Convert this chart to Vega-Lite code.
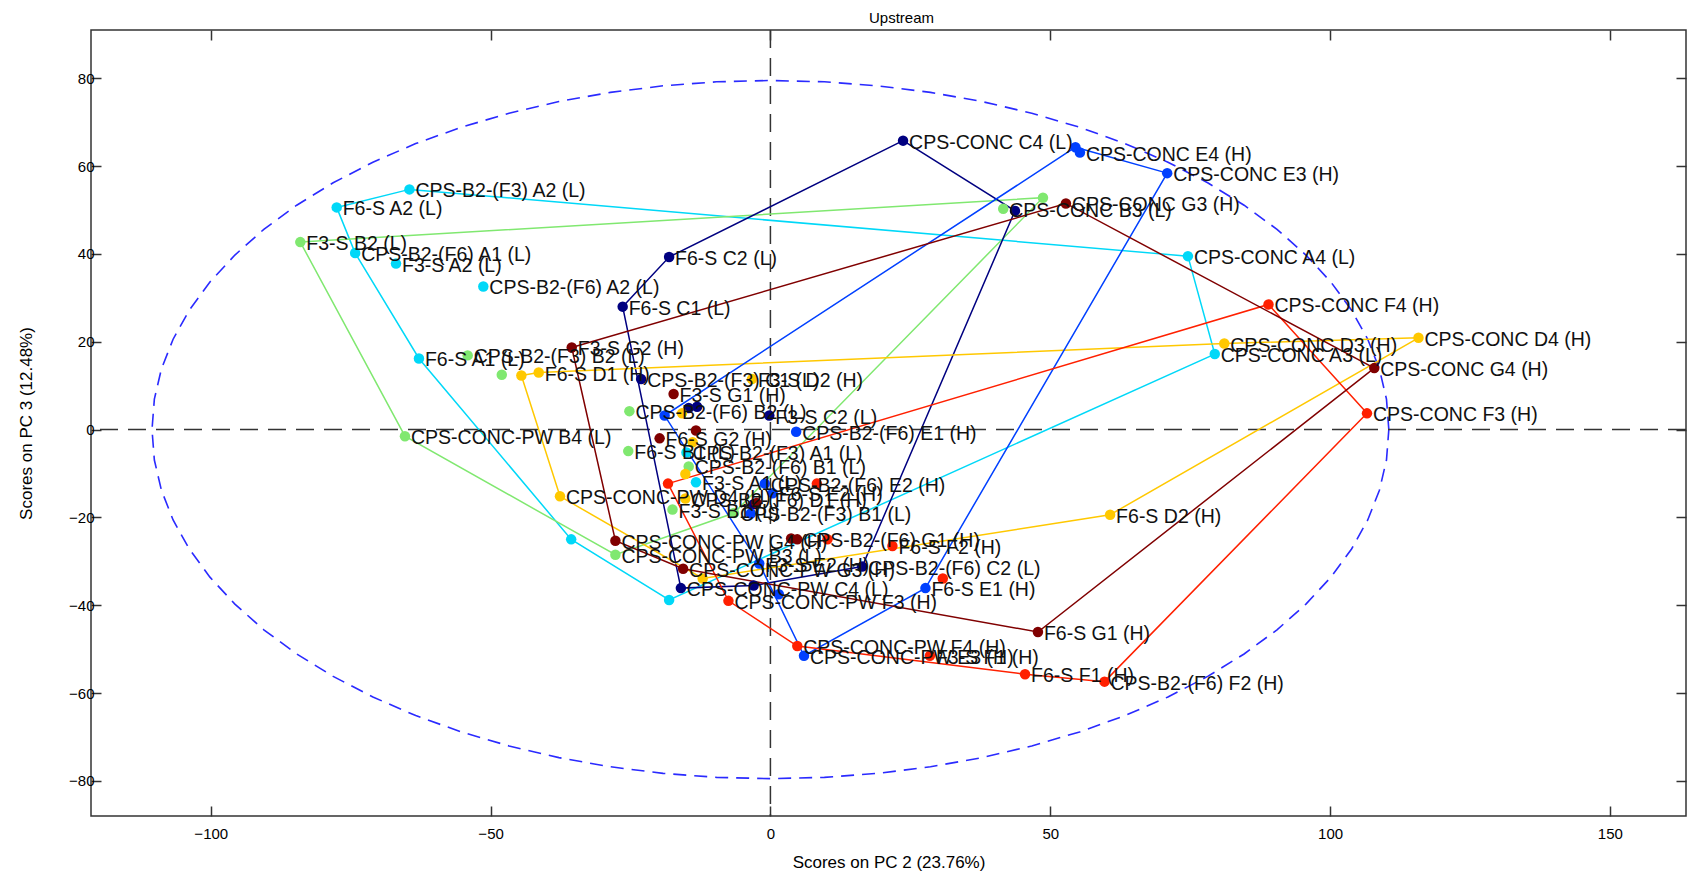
{
  "$schema": "https://vega.github.io/schema/vega-lite/v6.json",
  "width": 1595,
  "height": 786,
  "autosize": {"type": "none"},
  "padding": {"left": 91, "top": 30, "right": 4, "bottom": 66},
  "background": "white",
  "title": {"text": "Upstream", "fontSize": 15, "fontWeight": "normal", "font": "Liberation Sans", "offset": 3, "color": "#000", "dx": 13},
  "config": {
    "view": {"stroke": "#333", "strokeWidth": 1.5},
    "axis": {"labelFont": "Liberation Sans", "titleFont": "Liberation Sans", "labelFontSize": 15, "titleFontSize": 17, "titleFontWeight": "normal", "labelColor": "#000", "titleColor": "#000", "tickColor": "#333", "tickWidth": 1.5, "domain": false, "grid": false}
  },
  "datasets": {
    "scores": [
      {"g":"A","x":-64.5,"y":54.7,"label":"CPS-B2-(F3) A2 (L)"},
      {"g":"A","x":-77.5,"y":50.6,"label":"F6-S A2 (L)"},
      {"g":"A","x":-74.2,"y":40.2,"label":"CPS-B2-(F6) A1 (L)"},
      {"g":"A","x":-66.9,"y":37.8,"label":"F3-S A2 (L)"},
      {"g":"A","x":-51.3,"y":32.6,"label":"CPS-B2-(F6) A2 (L)"},
      {"g":"A","x":-62.8,"y":16.2,"label":"F6-S A1 (L)"},
      {"g":"A","x":74.6,"y":39.5,"label":"CPS-CONC A4 (L)"},
      {"g":"A","x":79.4,"y":17.2,"label":"CPS-CONC A3 (L)"},
      {"g":"A","x":-13.3,"y":-12.0,"label":"F3-S A1 (L)"},
      {"g":"A","x":-15.0,"y":-5.2,"label":"CPS-B2-(F3) A1 (L)"},
      {"g":"A","x":-35.6,"y":-25.0,"label":""},
      {"g":"A","x":-18.1,"y":-38.8,"label":""},
      {"g":"B","x":-84.0,"y":42.7,"label":"F3-S B2 (L)"},
      {"g":"B","x":-65.3,"y":-1.5,"label":"CPS-CONC-PW B4 (L)"},
      {"g":"B","x":-54.1,"y":16.9,"label":"CPS-B2-(F3) B2 (L)"},
      {"g":"B","x":-48.0,"y":12.5,"label":""},
      {"g":"B","x":-27.7,"y":-28.5,"label":"CPS-CONC-PW B3 (L)"},
      {"g":"B","x":-25.4,"y":-4.9,"label":"F6-S B1 (L)"},
      {"g":"B","x":-25.2,"y":4.2,"label":"CPS-B2-(F6) B2 (L)"},
      {"g":"B","x":-14.6,"y":-8.4,"label":"CPS-B2-(F6) B1 (L)"},
      {"g":"B","x":-17.5,"y":-18.2,"label":"F3-S B1 (L)"},
      {"g":"B","x":-6.5,"y":-19.0,"label":"CPS-B2-(F3) B1 (L)"},
      {"g":"B","x":41.6,"y":50.3,"label":"CPS-CONC B3 (L)"},
      {"g":"B","x":48.7,"y":52.8,"label":""},
      {"g":"C","x":23.7,"y":65.8,"label":"CPS-CONC C4 (L)"},
      {"g":"C","x":-18.1,"y":39.3,"label":"F6-S C2 (L)"},
      {"g":"C","x":-26.4,"y":28.0,"label":"F6-S C1 (L)"},
      {"g":"C","x":-23.1,"y":11.5,"label":"CPS-B2-(F3) C1 (L)"},
      {"g":"C","x":-14.6,"y":4.9,"label":""},
      {"g":"C","x":-13.1,"y":5.2,"label":""},
      {"g":"C","x":-0.2,"y":3.2,"label":"F3-S C2 (L)"},
      {"g":"C","x":43.7,"y":49.8,"label":""},
      {"g":"C","x":-16.0,"y":-36.1,"label":"CPS-CONC-PW C4 (L)"},
      {"g":"C","x":16.4,"y":-31.2,"label":"CPS-B2-(F6) C2 (L)"},
      {"g":"C","x":-3.0,"y":-35.5,"label":""},
      {"g":"C","x":-3.0,"y":-17.0,"label":""},
      {"g":"D","x":115.8,"y":20.9,"label":"CPS-CONC D4 (H)"},
      {"g":"D","x":81.1,"y":19.6,"label":"CPS-CONC D3 (H)"},
      {"g":"D","x":-41.4,"y":13.0,"label":"F6-S D1 (H)"},
      {"g":"D","x":-44.5,"y":12.3,"label":""},
      {"g":"D","x":60.7,"y":-19.4,"label":"F6-S D2 (H)"},
      {"g":"D","x":-37.6,"y":-15.2,"label":"CPS-CONC-PW D4 (H)"},
      {"g":"D","x":-3.3,"y":11.5,"label":"F3-S D2 (H)"},
      {"g":"D","x":-15.2,"y":-10.1,"label":""},
      {"g":"D","x":-15.2,"y":-15.7,"label":"CPS-B2-(F6) D1 (H)"},
      {"g":"D","x":-15.8,"y":3.7,"label":""},
      {"g":"D","x":-12.1,"y":-33.9,"label":""},
      {"g":"D","x":-13.9,"y":-2.9,"label":""},
      {"g":"E","x":54.5,"y":64.3,"label":""},
      {"g":"E","x":55.3,"y":63.1,"label":"CPS-CONC E4 (H)"},
      {"g":"E","x":70.9,"y":58.4,"label":"CPS-CONC E3 (H)"},
      {"g":"E","x":4.6,"y":-0.5,"label":"CPS-B2-(F6) E1 (H)"},
      {"g":"E","x":-1.0,"y":-12.3,"label":"CPS-B2-(F6) E2 (H)"},
      {"g":"E","x":27.7,"y":-36.1,"label":"F6-S E1 (H)"},
      {"g":"E","x":0.4,"y":-14.5,"label":"F6-S E2 (H)"},
      {"g":"E","x":6.0,"y":-51.5,"label":"CPS-CONC-PW E3 (H)"},
      {"g":"E","x":1.5,"y":-37.5,"label":""},
      {"g":"E","x":-18.9,"y":3.2,"label":""},
      {"g":"E","x":-2.0,"y":-30.5,"label":"F3-S E2 (H)"},
      {"g":"E","x":-3.5,"y":-19.1,"label":""},
      {"g":"F","x":89.0,"y":28.5,"label":"CPS-CONC F4 (H)"},
      {"g":"F","x":106.6,"y":3.7,"label":"CPS-CONC F3 (H)"},
      {"g":"F","x":21.8,"y":-26.5,"label":"F6-S F2 (H)"},
      {"g":"F","x":45.5,"y":-55.7,"label":"F6-S F1 (H)"},
      {"g":"F","x":59.7,"y":-57.4,"label":"CPS-B2-(F6) F2 (H)"},
      {"g":"F","x":4.8,"y":-49.3,"label":"CPS-CONC-PW F4 (H)"},
      {"g":"F","x":-7.5,"y":-39.0,"label":"CPS-CONC-PW F3 (H)"},
      {"g":"F","x":-18.3,"y":-12.3,"label":""},
      {"g":"F","x":8.3,"y":-12.3,"label":""},
      {"g":"F","x":10.2,"y":-25.0,"label":""},
      {"g":"F","x":30.8,"y":-33.9,"label":""},
      {"g":"F","x":28.5,"y":-51.5,"label":"F3-S F1 (H)"},
      {"g":"G","x":52.8,"y":51.5,"label":"CPS-CONC G3 (H)"},
      {"g":"G","x":107.9,"y":14.0,"label":"CPS-CONC G4 (H)"},
      {"g":"G","x":47.8,"y":-46.1,"label":"F6-S G1 (H)"},
      {"g":"G","x":-35.5,"y":18.7,"label":"F3-S G2 (H)"},
      {"g":"G","x":-17.3,"y":8.1,"label":"F3-S G1 (H)"},
      {"g":"G","x":-19.8,"y":-2.0,"label":"F6-S G2 (H)"},
      {"g":"G","x":-13.3,"y":-0.2,"label":""},
      {"g":"G","x":-27.7,"y":-25.3,"label":"CPS-CONC-PW G4 (H)"},
      {"g":"G","x":-15.6,"y":-31.7,"label":"CPS-CONC-PW G3 (H)"},
      {"g":"G","x":4.8,"y":-25.0,"label":"CPS-B2-(F6) G1 (H)"},
      {"g":"G","x":3.7,"y":-24.8,"label":""},
      {"g":"G","x":-2.5,"y":-16.7,"label":""}
    ],
    "hulls": [
      {"g":"A","o":0,"x":-77.5,"y":50.6},{"g":"A","o":1,"x":-64.5,"y":54.7},{"g":"A","o":2,"x":74.6,"y":39.5},{"g":"A","o":3,"x":79.4,"y":17.2},{"g":"A","o":4,"x":-18.1,"y":-38.8},{"g":"A","o":5,"x":-35.6,"y":-25.0},{"g":"A","o":6,"x":-62.8,"y":16.2},{"g":"A","o":7,"x":-74.2,"y":40.2},{"g":"A","o":8,"x":-77.5,"y":50.6},
      {"g":"B","o":0,"x":-84.0,"y":42.7},{"g":"B","o":1,"x":48.7,"y":52.8},{"g":"B","o":2,"x":-6.5,"y":-19.0},{"g":"B","o":3,"x":-27.7,"y":-28.5},{"g":"B","o":4,"x":-65.3,"y":-1.5},{"g":"B","o":5,"x":-84.0,"y":42.7},
      {"g":"C","o":0,"x":23.7,"y":65.8},{"g":"C","o":1,"x":43.7,"y":49.8},{"g":"C","o":2,"x":16.4,"y":-31.2},{"g":"C","o":3,"x":-3.0,"y":-35.5},{"g":"C","o":4,"x":-16.0,"y":-36.1},{"g":"C","o":5,"x":-26.4,"y":28.0},{"g":"C","o":6,"x":-18.1,"y":39.3},{"g":"C","o":7,"x":23.7,"y":65.8},
      {"g":"D","o":0,"x":-44.5,"y":12.3},{"g":"D","o":1,"x":-41.4,"y":13.0},{"g":"D","o":2,"x":81.1,"y":19.6},{"g":"D","o":3,"x":115.8,"y":20.9},{"g":"D","o":4,"x":60.7,"y":-19.4},{"g":"D","o":5,"x":-12.1,"y":-33.9},{"g":"D","o":6,"x":-37.6,"y":-15.2},{"g":"D","o":7,"x":-44.5,"y":12.3},
      {"g":"E","o":0,"x":54.5,"y":64.3},{"g":"E","o":1,"x":70.9,"y":58.4},{"g":"E","o":2,"x":27.7,"y":-36.1},{"g":"E","o":3,"x":6.0,"y":-51.5},{"g":"E","o":4,"x":-2.0,"y":-30.5},{"g":"E","o":5,"x":-18.9,"y":3.2},{"g":"E","o":6,"x":54.5,"y":64.3},
      {"g":"F","o":0,"x":-18.3,"y":-12.3},{"g":"F","o":1,"x":89.0,"y":28.5},{"g":"F","o":2,"x":106.6,"y":3.7},{"g":"F","o":3,"x":59.7,"y":-57.4},{"g":"F","o":4,"x":45.5,"y":-55.7},{"g":"F","o":5,"x":4.8,"y":-49.3},{"g":"F","o":6,"x":-7.5,"y":-39.0},{"g":"F","o":7,"x":-18.3,"y":-12.3},
      {"g":"G","o":0,"x":-35.5,"y":18.7},{"g":"G","o":1,"x":52.8,"y":51.5},{"g":"G","o":2,"x":107.9,"y":14.0},{"g":"G","o":3,"x":47.8,"y":-46.1},{"g":"G","o":4,"x":-15.6,"y":-31.7},{"g":"G","o":5,"x":-27.7,"y":-25.3},{"g":"G","o":6,"x":-35.5,"y":18.7}
    ],
    "ellipse": [
      {"i":0,"x":110.5,"y":0},{"i":1,"x":110.08,"y":6.93},{"i":2,"x":108.82,"y":13.8},{"i":3,"x":106.73,"y":20.58},{"i":4,"x":103.84,"y":27.19},{"i":5,"x":100.15,"y":33.6},{"i":6,"x":95.69,"y":39.75},{"i":7,"x":90.52,"y":45.6},{"i":8,"x":84.64,"y":51.1},{"i":9,"x":78.13,"y":56.21},{"i":10,"x":71.03,"y":60.9},{"i":11,"x":63.38,"y":65.13},{"i":12,"x":55.25,"y":68.85},{"i":13,"x":46.7,"y":72.05},{"i":14,"x":37.79,"y":74.71},{"i":15,"x":28.6,"y":76.79},{"i":16,"x":19.18,"y":78.29},{"i":17,"x":9.64,"y":79.2},{"i":18,"x":0,"y":79.5},
      {"i":19,"x":-9.64,"y":79.2},{"i":20,"x":-19.18,"y":78.29},{"i":21,"x":-28.6,"y":76.79},{"i":22,"x":-37.79,"y":74.71},{"i":23,"x":-46.7,"y":72.05},{"i":24,"x":-55.25,"y":68.85},{"i":25,"x":-63.38,"y":65.13},{"i":26,"x":-71.03,"y":60.9},{"i":27,"x":-78.13,"y":56.21},{"i":28,"x":-84.64,"y":51.1},{"i":29,"x":-90.52,"y":45.6},{"i":30,"x":-95.69,"y":39.75},{"i":31,"x":-100.15,"y":33.6},{"i":32,"x":-103.84,"y":27.19},{"i":33,"x":-106.73,"y":20.58},{"i":34,"x":-108.82,"y":13.8},{"i":35,"x":-110.08,"y":6.93},{"i":36,"x":-110.5,"y":0},
      {"i":37,"x":-110.08,"y":-6.93},{"i":38,"x":-108.82,"y":-13.8},{"i":39,"x":-106.73,"y":-20.58},{"i":40,"x":-103.84,"y":-27.19},{"i":41,"x":-100.15,"y":-33.6},{"i":42,"x":-95.69,"y":-39.75},{"i":43,"x":-90.52,"y":-45.6},{"i":44,"x":-84.64,"y":-51.1},{"i":45,"x":-78.13,"y":-56.21},{"i":46,"x":-71.03,"y":-60.9},{"i":47,"x":-63.38,"y":-65.13},{"i":48,"x":-55.25,"y":-68.85},{"i":49,"x":-46.7,"y":-72.05},{"i":50,"x":-37.79,"y":-74.71},{"i":51,"x":-28.6,"y":-76.79},{"i":52,"x":-19.18,"y":-78.29},{"i":53,"x":-9.64,"y":-79.2},{"i":54,"x":0,"y":-79.5},
      {"i":55,"x":9.64,"y":-79.2},{"i":56,"x":19.18,"y":-78.29},{"i":57,"x":28.6,"y":-76.79},{"i":58,"x":37.79,"y":-74.71},{"i":59,"x":46.7,"y":-72.05},{"i":60,"x":55.25,"y":-68.85},{"i":61,"x":63.38,"y":-65.13},{"i":62,"x":71.03,"y":-60.9},{"i":63,"x":78.13,"y":-56.21},{"i":64,"x":84.64,"y":-51.1},{"i":65,"x":90.52,"y":-45.6},{"i":66,"x":95.69,"y":-39.75},{"i":67,"x":100.15,"y":-33.6},{"i":68,"x":103.84,"y":-27.19},{"i":69,"x":106.73,"y":-20.58},{"i":70,"x":108.82,"y":-13.8},{"i":71,"x":110.08,"y":-6.93},{"i":72,"x":110.5,"y":0}
    ]
  },
  "resolve": {"axis": {"x": "independent", "y": "independent"}},
  "layer": [
    {
      "data": {"name": "ellipse"},
      "mark": {"type": "line", "stroke": "#2a2aff", "strokeWidth": 1.6, "strokeDash": [13, 8]},
      "encoding": {
        "x": {"field": "x", "type": "quantitative", "scale": {"domain": [-121.4, 163.6], "nice": false, "zero": false}, "axis": null},
        "y": {"field": "y", "type": "quantitative", "scale": {"domain": [-88, 91], "nice": false, "zero": false}, "axis": null},
        "order": {"field": "i"}
      }
    },
    {
      "data": {"values": [{"v": 0}]},
      "mark": {"type": "rule", "stroke": "#333", "strokeWidth": 1.5, "strokeDash": [18, 10]},
      "encoding": {
        "x": {"field": "v", "type": "quantitative", "scale": {"domain": [-121.4, 163.6], "nice": false, "zero": false}, "axis": {"orient": "top", "labels": false, "title": null, "values": [-100, -50, 0, 50, 100, 150], "tickSize": -10}}
      }
    },
    {
      "data": {"values": [{"v": 0}]},
      "mark": {"type": "rule", "stroke": "#333", "strokeWidth": 1.5, "strokeDash": [18, 10]},
      "encoding": {
        "y": {"field": "v", "type": "quantitative", "scale": {"domain": [-88, 91], "nice": false, "zero": false}, "axis": {"orient": "right", "labels": false, "title": null, "values": [-80, -60, -40, -20, 0, 20, 40, 60, 80], "tickSize": -10}}
      }
    },
    {
      "data": {"name": "hulls"},
      "mark": {"type": "line", "strokeWidth": 1.5},
      "encoding": {
        "x": {"field": "x", "type": "quantitative", "scale": {"domain": [-121.4, 163.6], "nice": false, "zero": false}, "axis": {"title": "Scores on PC 2 (23.76%)", "values": [-100, -50, 0, 50, 100, 150], "tickSize": -10, "labelPadding": 20, "titlePadding": 13}},
        "y": {"field": "y", "type": "quantitative", "scale": {"domain": [-88, 91], "nice": false, "zero": false}, "axis": {"title": "Scores on PC 3 (12.48%)", "values": [-80, -60, -40, -20, 0, 20, 40, 60, 80], "tickSize": -10, "labelPadding": 7, "titlePadding": 33}},
        "color": {"field": "g", "type": "nominal", "legend": null, "scale": {"domain": ["A","B","C","D","E","F","G"], "range": ["#00d8f8","#80e870","#000080","#ffc800","#0040ff","#ff2000","#800000"]}},
        "detail": {"field": "g"},
        "order": {"field": "o"}
      }
    },
    {
      "data": {"name": "scores"},
      "mark": {"type": "circle", "size": 110, "opacity": 1},
      "encoding": {
        "x": {"field": "x", "type": "quantitative", "scale": {"domain": [-121.4, 163.6], "nice": false, "zero": false}, "axis": null},
        "y": {"field": "y", "type": "quantitative", "scale": {"domain": [-88, 91], "nice": false, "zero": false}, "axis": null},
        "color": {"field": "g", "type": "nominal", "legend": null, "scale": {"domain": ["A","B","C","D","E","F","G"], "range": ["#00d8f8","#80e870","#000080","#ffc800","#0040ff","#ff2000","#800000"]}}
      }
    },
    {
      "data": {"name": "scores"},
      "mark": {"type": "text", "align": "left", "baseline": "middle", "dx": 6, "dy": 2, "fontSize": 19.5, "font": "Liberation Sans", "color": "#111"},
      "encoding": {
        "x": {"field": "x", "type": "quantitative", "scale": {"domain": [-121.4, 163.6], "nice": false, "zero": false}, "axis": null},
        "y": {"field": "y", "type": "quantitative", "scale": {"domain": [-88, 91], "nice": false, "zero": false}, "axis": null},
        "text": {"field": "label"}
      }
    }
  ]
}
